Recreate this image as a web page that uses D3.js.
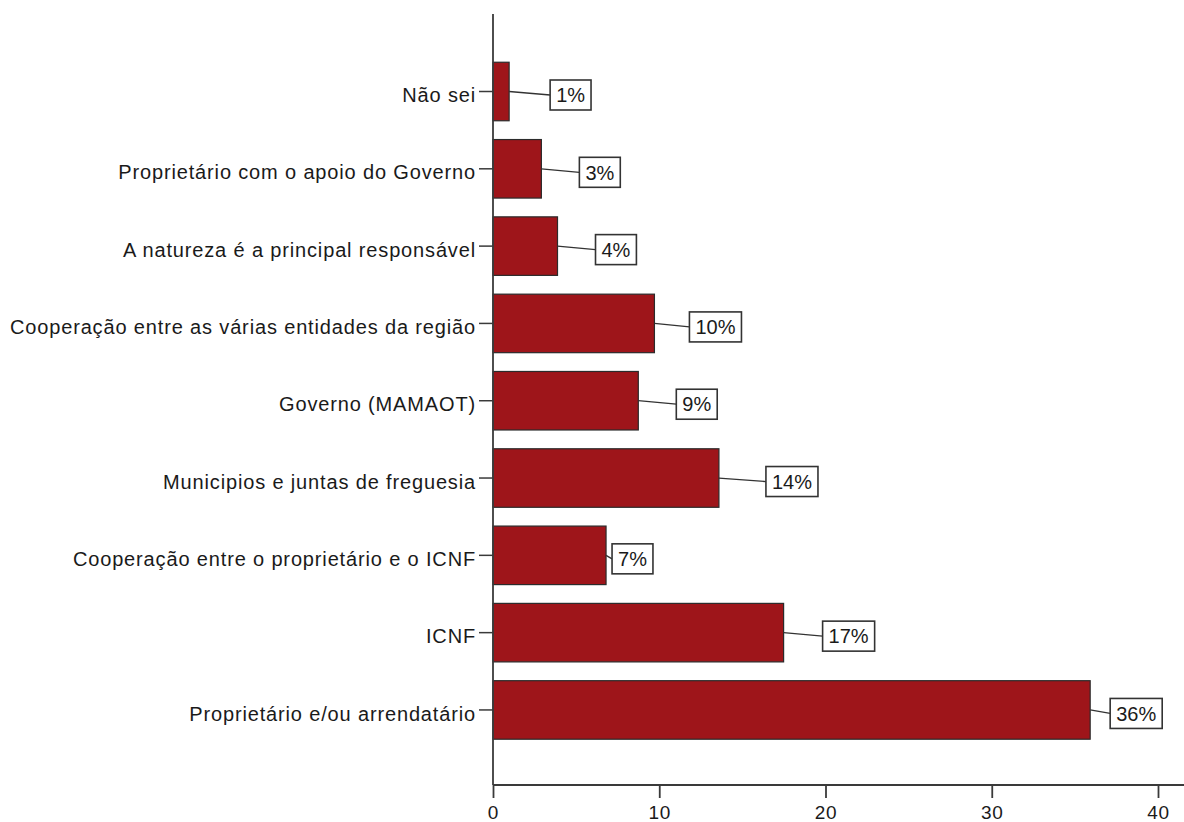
<!DOCTYPE html>
<html>
<head>
<meta charset="utf-8">
<script src="https://cdn.jsdelivr.net/npm/d3@7"></script>
<style>
  html, body { margin: 0; padding: 0; background: #fff; }
  svg { display: block; }
  text { font-family: "Liberation Sans", Arial, sans-serif; fill: #1a1a1a; }
</style>
</head>
<body>
<svg id="chart" width="1184" height="822"></svg>
<script>
// Responses (percent of 103 answers), listed top to bottom
const categories = [
  "Não sei",
  "Proprietário com o apoio do Governo",
  "A natureza é a principal responsável",
  "Cooperação entre as várias entidades da região",
  "Governo (MAMAOT)",
  "Municipios e juntas de freguesia",
  "Cooperação entre o proprietário e o ICNF",
  "ICNF",
  "Proprietário e/ou arrendatário"
];
const percents = [0.97, 2.91, 3.88, 9.71, 8.74, 13.59, 6.80, 17.48, 35.92];
const xTicks = [0, 10, 20, 30, 40];

// Horizontal gap (px) between each bar end and its value box
const labelGaps = [41, 38, 38, 35, 38, 47, 6, 39, 20];

const W = 1184, H = 822;
const svg = d3.select("#chart");
svg.append("rect").attr("width", W).attr("height", H).attr("fill", "#fff");

const x0 = 493, axisY = 785, axisTop = 14;
const x = d3.scaleLinear().domain([0, 40]).range([x0, 1158]);
const y = d3.scaleBand()
  .domain(categories)
  .range([52.85, 748.6])
  .paddingInner(0.243)
  .paddingOuter(0.1215);

const axisColor = "#3a3a3a";

// Bars
const rows = categories.map((c, i) => ({ c, v: percents[i], gap: labelGaps[i] }));
svg.append("g").selectAll("rect").data(rows).join("rect")
  .attr("x", x(0))
  .attr("y", d => y(d.c))
  .attr("width", d => x(d.v) - x(0))
  .attr("height", y.bandwidth())
  .attr("fill", "#9e151a")
  .attr("stroke", "#2b2b2b")
  .attr("stroke-width", 1.2);

// Y axis: category ticks and labels
const yAxis = svg.append("g").attr("transform", `translate(${x0},0)`)
  .call(d3.axisLeft(y).tickSize(14).tickPadding(3));
yAxis.select(".domain").remove();
yAxis.selectAll(".tick line").attr("stroke", axisColor).attr("stroke-width", 1.5);
yAxis.selectAll(".tick text")
  .attr("font-size", 20).attr("letter-spacing", "0.85px")
  .attr("dy", "0.53em")
  .attr("font-family", "Liberation Sans, Arial, sans-serif")
  .attr("fill", "#1a1a1a");

svg.append("line")
  .attr("x1", x0).attr("x2", x0).attr("y1", axisTop).attr("y2", axisY)
  .attr("stroke", axisColor).attr("stroke-width", 1.8);

// X axis
const xAxis = svg.append("g").attr("transform", `translate(0,${axisY})`)
  .call(d3.axisBottom(x).tickValues(xTicks).tickSize(13).tickPadding(8));
xAxis.select(".domain").remove();
xAxis.selectAll(".tick line").attr("stroke", axisColor).attr("stroke-width", 1.8);
xAxis.selectAll(".tick text")
  .attr("font-size", 19).attr("letter-spacing", "0.8px")
  .attr("font-family", "Liberation Sans, Arial, sans-serif")
  .attr("fill", "#1a1a1a");
svg.append("line")
  .attr("x1", x0).attr("x2", W).attr("y1", axisY).attr("y2", axisY)
  .attr("stroke", axisColor).attr("stroke-width", 1.8);

// Value labels in boxes with leader lines
const fmt = v => d3.format(".0f")(v) + "%";
const lab = svg.append("g").selectAll("g").data(rows).join("g");
lab.each(function (d) {
  const g = d3.select(this);
  const cy = y(d.c) + y.bandwidth() / 2;
  const ly = cy + 3.5;
  const bx = x(d.v) + d.gap;
  const t = g.append("text")
    .attr("x", bx + 6).attr("y", ly)
    .attr("dy", "0.36em")
    .attr("font-size", 20)
    .text(fmt(d.v));
  const tw = t.node().getComputedTextLength();
  const bh = 30, bw = tw + 12;
  g.insert("line", "text")
    .attr("x1", x(d.v)).attr("y1", cy)
    .attr("x2", bx).attr("y2", ly)
    .attr("stroke", "#333").attr("stroke-width", 1.3);
  g.insert("rect", "text")
    .attr("x", bx).attr("y", ly - bh / 2)
    .attr("width", bw).attr("height", bh)
    .attr("fill", "#fff").attr("stroke", "#333").attr("stroke-width", 1.6);
});
</script>
</body>
</html>
